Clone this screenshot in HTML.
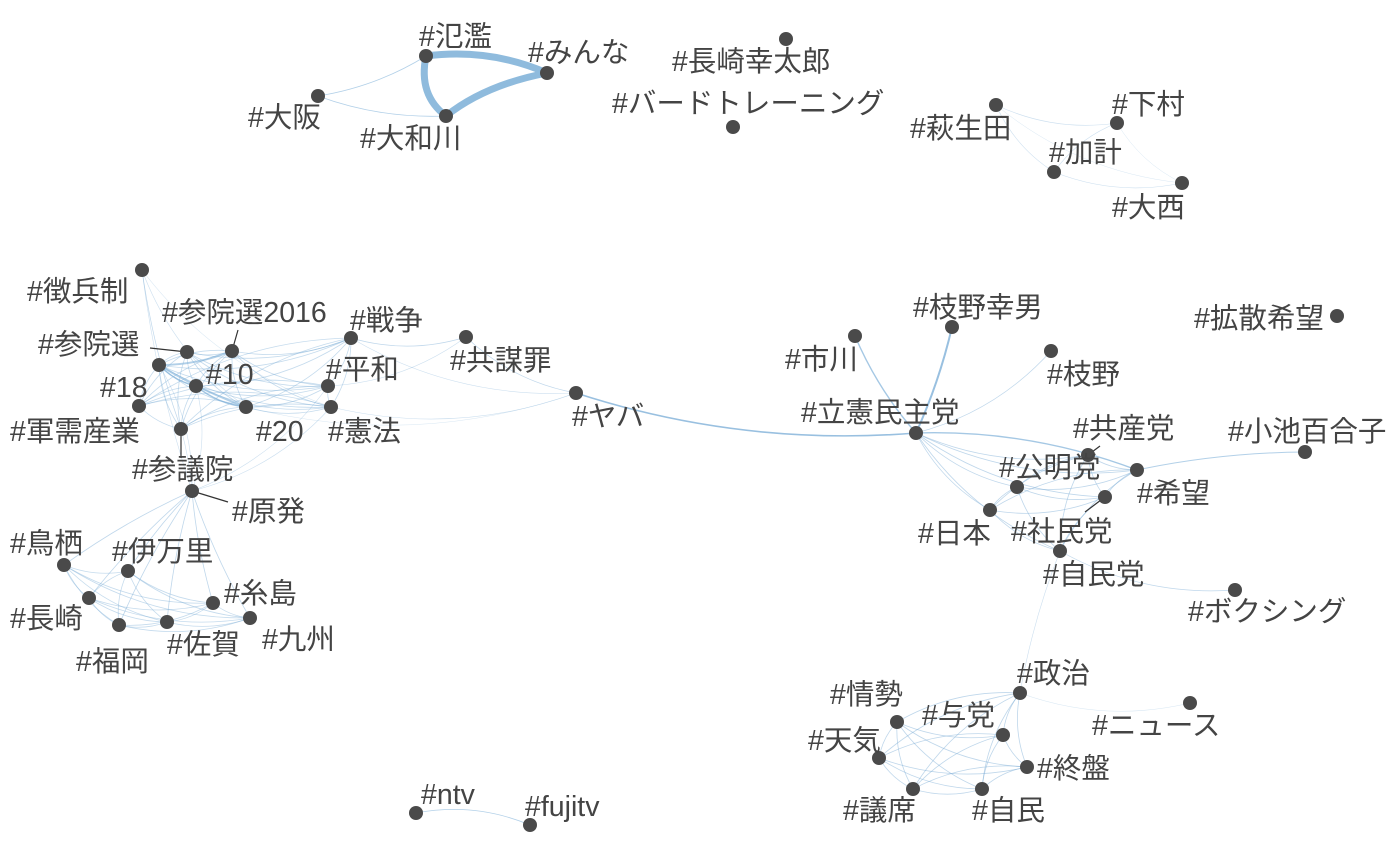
<!DOCTYPE html>
<html><head><meta charset="utf-8">
<style>
html,body{margin:0;padding:0;background:#fff;}
svg{display:block}
text{font-family:"Liberation Sans","Noto Sans CJK JP",sans-serif;font-size:28.5px;fill:#444;}
</style></head>
<body>
<svg id="g" width="1400" height="865" viewBox="0 0 1400 865" xmlns="http://www.w3.org/2000/svg">
<g id="edges" fill="none" stroke="#7fb0d8"></g>
<g id="strong" fill="none" stroke="#8fbbdd" stroke-linecap="round">
<path d="M426,56 Q490,48 547,73" stroke-width="7"/>
<path d="M426,56 Q418,95 446,116" stroke-width="7"/>
<path d="M446,116 Q485,85 547,73" stroke-width="7"/>
</g>
<g stroke="#333" stroke-width="1.2">
<line x1="187" y1="352" x2="150" y2="348"/>
<line x1="232" y1="351" x2="238" y2="330"/>
<line x1="181" y1="429" x2="181" y2="458"/>
<line x1="192" y1="491" x2="228" y2="502"/>
<line x1="1088" y1="455" x2="1100" y2="446"/>
<line x1="1105" y1="497" x2="1085" y2="512"/>
</g>
<g id="nodes" fill="#4a4a4a">
<circle cx="426" cy="56" r="7"/><circle cx="547" cy="73" r="7"/><circle cx="446" cy="116" r="7"/><circle cx="318" cy="96" r="7"/>
<circle cx="786" cy="39" r="7"/><circle cx="733" cy="127" r="7"/>
<circle cx="996" cy="105" r="7"/><circle cx="1117" cy="123" r="7"/><circle cx="1054" cy="172" r="7"/><circle cx="1182" cy="183" r="7"/>
<circle cx="142" cy="270" r="7"/><circle cx="187" cy="352" r="7"/><circle cx="232" cy="351" r="7"/><circle cx="159" cy="365" r="7"/>
<circle cx="196" cy="386" r="7"/><circle cx="139" cy="406" r="7"/><circle cx="246" cy="407" r="7"/><circle cx="328" cy="386" r="7"/>
<circle cx="331" cy="407" r="7"/><circle cx="351" cy="338" r="7"/><circle cx="466" cy="337" r="7"/><circle cx="576" cy="393" r="7"/>
<circle cx="181" cy="429" r="7"/><circle cx="192" cy="491" r="7"/>
<circle cx="64" cy="565" r="7"/><circle cx="128" cy="571" r="7"/><circle cx="89" cy="598" r="7"/><circle cx="119" cy="625" r="7"/>
<circle cx="167" cy="622" r="7"/><circle cx="213" cy="603" r="7"/><circle cx="250" cy="618" r="7"/>
<circle cx="855" cy="336" r="7"/><circle cx="952" cy="327" r="7"/><circle cx="1051" cy="351" r="7"/><circle cx="916" cy="433" r="7"/>
<circle cx="1088" cy="455" r="7"/><circle cx="1017" cy="487" r="7"/><circle cx="1137" cy="470" r="7"/><circle cx="990" cy="510" r="7"/>
<circle cx="1105" cy="497" r="7"/><circle cx="1060" cy="551" r="7"/><circle cx="1305" cy="452" r="7"/><circle cx="1235" cy="590" r="7"/>
<circle cx="1337" cy="316" r="7"/>
<circle cx="1020" cy="693" r="7"/><circle cx="1190" cy="703" r="7"/><circle cx="897" cy="722" r="7"/><circle cx="1003" cy="735" r="7"/>
<circle cx="879" cy="758" r="7"/><circle cx="1027" cy="767" r="7"/><circle cx="913" cy="789" r="7"/><circle cx="982" cy="789" r="7"/>
<circle cx="416" cy="813" r="7"/><circle cx="530" cy="825" r="7"/>
</g>
<g id="labels">
<text x="419" y="46">#氾濫</text>
<text x="528" y="62">#みんな</text>
<text x="360" y="148">#大和川</text>
<text x="248" y="127">#大阪</text>
<text x="672" y="71">#長崎幸太郎</text>
<text x="612" y="113">#バードトレーニング</text>
<text x="910" y="138">#萩生田</text>
<text x="1112" y="114">#下村</text>
<text x="1049" y="162">#加計</text>
<text x="1112" y="217">#大西</text>
<text x="27" y="301">#徴兵制</text>
<text x="162" y="322">#参院選2016</text>
<text x="38" y="354">#参院選</text>
<text x="100" y="397">#18</text>
<text x="206" y="384">#10</text>
<text x="10" y="441">#軍需産業</text>
<text x="256" y="441">#20</text>
<text x="326" y="379">#平和</text>
<text x="328" y="441">#憲法</text>
<text x="350" y="330">#戦争</text>
<text x="450" y="370">#共謀罪</text>
<text x="572" y="426">#ヤバ</text>
<text x="132" y="479">#参議院</text>
<text x="232" y="521">#原発</text>
<text x="10" y="553">#鳥栖</text>
<text x="112" y="561">#伊万里</text>
<text x="10" y="628">#長崎</text>
<text x="76" y="671">#福岡</text>
<text x="167" y="654">#佐賀</text>
<text x="224" y="603">#糸島</text>
<text x="262" y="649">#九州</text>
<text x="785" y="369">#市川</text>
<text x="913" y="317">#枝野幸男</text>
<text x="1047" y="384">#枝野</text>
<text x="801" y="422">#立憲民主党</text>
<text x="1073" y="438">#共産党</text>
<text x="999" y="477">#公明党</text>
<text x="1137" y="503">#希望</text>
<text x="918" y="543">#日本</text>
<text x="1011" y="541">#社民党</text>
<text x="1043" y="584">#自民党</text>
<text x="1228" y="441">#小池百合子</text>
<text x="1188" y="621">#ボクシング</text>
<text x="1194" y="328">#拡散希望</text>
<text x="1017" y="683">#政治</text>
<text x="1092" y="735">#ニュース</text>
<text x="830" y="704">#情勢</text>
<text x="922" y="725">#与党</text>
<text x="808" y="750">#天気</text>
<text x="1037" y="778">#終盤</text>
<text x="843" y="820">#議席</text>
<text x="972" y="820">#自民</text>
<text x="421" y="804">#ntv</text>
<text x="525" y="816">#fujitv</text>
</g>
</svg>
<script>
(function(){
var P={hanran:[426,56],minna:[547,73],yamato:[446,116],osaka:[318,96],
hagi:[996,105],shimo:[1117,123],kake:[1054,172],onishi:[1182,183],
chohei:[142,270],sin:[187,352],s16:[232,351],n18:[159,365],n10:[196,386],gun:[139,406],n20:[246,407],heiwa:[328,386],ken:[331,407],sen:[351,338],kyobo:[466,337],yaba:[576,393],sangi:[181,429],genpatsu:[192,491],
tosu:[64,565],imari:[128,571],naga:[89,598],fuku:[119,625],saga:[167,622],ito:[213,603],kyu:[250,618],
ichi:[855,336],edy:[952,327],edano:[1051,351],rikken:[916,433],kyosan:[1088,455],komei:[1017,487],kibo:[1137,470],nihon:[990,510],shamin:[1105,497],jimin:[1060,551],koike:[1305,452],box:[1235,590],
seiji:[1020,693],news:[1190,703],josei:[897,722],yoto:[1003,735],tenki:[879,758],shuban:[1027,767],giseki:[913,789],jimin2:[982,789],
ntv:[416,813],fuji:[530,825]};
var g=document.getElementById('edges'),ns='http://www.w3.org/2000/svg';
function E(a,b,w,o,c){var A=P[a],B=P[b];var dx=B[0]-A[0],dy=B[1]-A[1];var k=(c===undefined?0.15:c);
var mx=(A[0]+B[0])/2-dy*k,my=(A[1]+B[1])/2+dx*k;var p=document.createElementNS(ns,'path');
p.setAttribute('d','M'+A+' Q'+mx+','+my+' '+B);p.setAttribute('stroke-width',w||0.8);p.setAttribute('stroke-opacity',o||0.6);g.appendChild(p);}
function clique(l,w,o){for(var i=0;i<l.length;i++)for(var j=i+1;j<l.length;j++)E(l[i],l[j],w,o);}
E('osaka','hanran',0.8,0.6,0.1);E('osaka','yamato',0.8,0.6,0.1);
E('hagi','shimo',0.6,0.4);E('hagi','kake',0.6,0.4);E('shimo','kake',0.6,0.4);E('kake','onishi',0.6,0.4);E('hagi','onishi',0.5,0.3);E('shimo','onishi',0.5,0.3);
clique(['sin','s16','n18','n10','n20','heiwa','ken','sen','gun','sangi'],0.8,0.45);
E('n18','n20',2,0.6,0.05);E('n18','s16',2,0.6,0.1);E('n18','n10',1.5,0.6);E('n10','n20',1.5,0.6);
E('chohei','sangi',0.7,0.5,0.05);E('chohei','n20',0.6,0.4);E('chohei','ken',0.6,0.3);E('chohei','genpatsu',0.6,0.4,0.05);
E('sen','kyobo',0.7,0.5);E('heiwa','kyobo',0.6,0.4);E('ken','yaba',0.6,0.4);E('sen','yaba',0.6,0.4);E('kyobo','yaba',0.7,0.5);E('n20','yaba',0.5,0.3);
E('genpatsu','n18',0.6,0.4);E('genpatsu','n10',0.6,0.4);E('genpatsu','heiwa',0.6,0.4);E('genpatsu','ken',0.6,0.4);E('genpatsu','sangi',0.6,0.4,0.05);
['tosu','imari','naga','fuku','saga','ito','kyu'].forEach(function(n){E('genpatsu',n,0.8,0.5,0.05);});
clique(['tosu','imari','naga','fuku','saga','ito','kyu'],0.8,0.45);
E('yaba','rikken',1.6,0.8,0.1);
E('rikken','ichi',1.4,0.7,-0.08);E('rikken','edy',2,0.8,0.05);E('rikken','edano',0.7,0.5);
clique(['rikken','kyosan','komei','kibo','nihon','shamin','jimin'],0.8,0.5);
E('rikken','kibo',1.4,0.7,-0.1);E('kibo','koike',1,0.6,-0.05);E('jimin','box',0.7,0.5);E('jimin','seiji',0.6,0.4,0.05);
clique(['seiji','josei','yoto','tenki','shuban','giseki','jimin2'],0.8,0.5);
E('seiji','news',0.6,0.3);E('ntv','fuji',0.8,0.6,-0.15);
})();
</script>
</body></html>
